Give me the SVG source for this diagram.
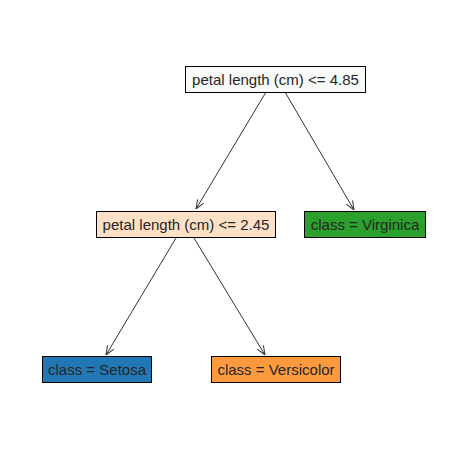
<svg xmlns="http://www.w3.org/2000/svg" width="460" height="449" viewBox="0 0 460 449">
<defs>
<style>
.box{stroke:#000;stroke-width:1}
.t{font-family:"Liberation Sans",Arial,sans-serif;font-size:15px;fill:#262626;text-anchor:middle;dominant-baseline:central}
.e{stroke:#333;stroke-width:1;fill:none;marker-end:url(#arr)}
</style>
<marker id="arr" viewBox="0 0 10 10" refX="10" refY="5" markerWidth="9" markerHeight="9" orient="auto" markerUnits="userSpaceOnUse">
<path d="M0,1 L10,5 L0,9" fill="none" stroke="#333" stroke-width="1.1"/>
</marker>
</defs>
<rect width="460" height="449" fill="#fff"/>
<g id="edges">
<line class="e" x1="266" y1="92" x2="196" y2="209"/>
<line class="e" x1="285" y1="92" x2="354" y2="210"/>
<line class="e" x1="176" y1="238" x2="106" y2="355"/>
<line class="e" x1="194" y1="238" x2="265" y2="355"/>
</g>
<g id="root">
<rect class="box" x="185.5" y="66.5" width="180" height="26" fill="#f8faf7"/>
<text class="t" x="275.5" y="79.5">petal length (cm) &lt;= 4.85</text>
</g>
<g id="node2">
<rect class="box" x="96.5" y="211.5" width="179" height="26" fill="#fde0c5"/>
<text class="t" x="186" y="224.5">petal length (cm) &lt;= 2.45</text>
</g>
<g id="virginica">
<rect class="box" x="304.5" y="211.5" width="121" height="26" fill="#2ca02c"/>
<text class="t" x="365" y="224.5">class = Virginica</text>
</g>
<g id="setosa">
<rect class="box" x="42.5" y="356.5" width="109" height="26" fill="#2178b4"/>
<text class="t" x="97" y="369.5">class = Setosa</text>
</g>
<g id="versicolor">
<rect class="box" x="211.5" y="356.5" width="129" height="26" fill="#fd9a3d"/>
<text class="t" x="276" y="369.5">class = Versicolor</text>
</g>
</svg>
